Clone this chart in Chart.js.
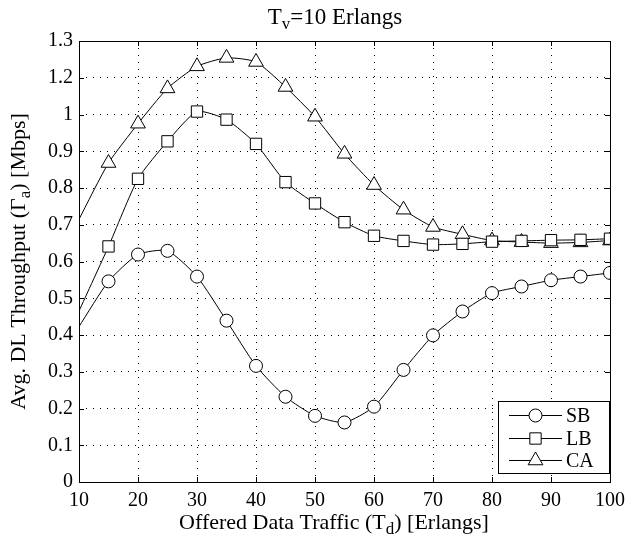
<!DOCTYPE html>
<html>
<head>
<meta charset="utf-8">
<script src="https://cdn.jsdelivr.net/npm/chart.js@4"></script>
<style>
  html, body { margin: 0; padding: 0; background: #fff; }
  #wrap { width: 632px; height: 544px; }
</style>
</head>
<body>
<div id="wrap"><canvas id="tputChart" width="632" height="544"></canvas></div>
<script>
// offered data traffic (Erlangs)
const trafficTd = [10, 15, 20, 25, 30, 35, 40, 45, 50, 55, 60, 65, 70, 75, 80, 85, 90, 95, 100];
// throughput per scheme (Mbps) - first point is the curve start, no marker there
const sbValues = [0.423, 0.546, 0.619, 0.629, 0.559, 0.439, 0.316, 0.232, 0.180, 0.162, 0.205, 0.305, 0.399, 0.464, 0.514, 0.532, 0.549, 0.559, 0.569];
const lbValues = [0.465, 0.641, 0.825, 0.927, 1.008, 0.986, 0.920, 0.816, 0.758, 0.707, 0.670, 0.656, 0.646, 0.648, 0.654, 0.656, 0.658, 0.659, 0.662];
const caValues = [0.715, 0.868, 0.975, 1.071, 1.131, 1.154, 1.143, 1.075, 0.994, 0.893, 0.808, 0.741, 0.694, 0.674, 0.657, 0.653, 0.650, 0.652, 0.657];
// tick labels as printed on the original figure
const xTickLabels = ["10", "20", "30", "40", "50", "60", "70", "80", "90", "100"];
const yTickLabels = ["0", "0.1", "0.2", "0.3", "0.4", "0.5", "0.6", "0.7", "0.8", "0.9", "1", "1.2", "1.3"];

const SERIF = "'Liberation Serif', 'DejaVu Serif', serif";

function toPoints(vals) {
  return vals.map((v, i) => ({ x: trafficTd[i], y: v }));
}
function radii(r) {
  return trafficTd.map((x, i) => (i === 0 ? 0 : r));
}

function mkSet(label, vals, style, r) {
  return {
    label: label,
    data: toPoints(vals),
    borderColor: "#000",
    borderWidth: 1,
    pointStyle: style,
    pointRadius: radii(r),
    pointHoverRadius: radii(r),
    pointBackgroundColor: "#fff",
    pointBorderColor: "#000",
    pointBorderWidth: 1,
    tension: 0.2,
    fill: false,
  };
}

// text with subscripts: parts = [[text, isSub], ...]
function drawRich(ctx, parts, size, cx, cy) {
  const subSize = Math.round(size * 0.75);
  let total = 0;
  parts.forEach((p) => {
    ctx.font = (p[1] ? subSize : size) + "px " + SERIF;
    total += ctx.measureText(p[0]).width;
  });
  let x = cx - total / 2;
  ctx.textAlign = "left";
  ctx.textBaseline = "middle";
  parts.forEach((p) => {
    ctx.font = (p[1] ? subSize : size) + "px " + SERIF;
    ctx.fillText(p[0], x, p[1] ? cy + size * 0.3 : cy);
    x += ctx.measureText(p[0]).width;
  });
}

const matlabFrame = {
  id: "matlabFrame",
  afterDraw(chart) {
    const ctx = chart.ctx;
    const a = chart.chartArea;
    const xs = chart.scales.x, ys = chart.scales.y;
    ctx.save();
    ctx.strokeStyle = "#000";
    ctx.fillStyle = "#000";
    ctx.lineWidth = 1;
    // box
    ctx.strokeRect(Math.round(a.left) + 0.5, Math.round(a.top) + 0.5, Math.round(a.right - a.left), Math.round(a.bottom - a.top));
    // inside ticks
    const tl = 5;
    ctx.beginPath();
    xs.ticks.forEach((t) => {
      const px = Math.round(xs.getPixelForValue(t.value)) + 0.5;
      ctx.moveTo(px, a.bottom); ctx.lineTo(px, a.bottom - tl);
      ctx.moveTo(px, a.top); ctx.lineTo(px, a.top + tl);
    });
    ys.ticks.forEach((t) => {
      const py = Math.round(ys.getPixelForValue(t.value)) + 0.5;
      ctx.moveTo(a.left, py); ctx.lineTo(a.left + tl, py);
      ctx.moveTo(a.right, py); ctx.lineTo(a.right - tl, py);
    });
    ctx.stroke();

    // titles
    drawRich(ctx, [["T", false], ["v", true], ["=10 Erlangs", false]], 23, 335, 18);
    drawRich(ctx, [["Offered Data Traffic (T", false], ["d", true], [") [Erlangs]", false]], 22, 334, 523);
    ctx.save();
    ctx.translate(19, (a.top + a.bottom) / 2);
    ctx.rotate(-Math.PI / 2);
    drawRich(ctx, [["Avg. DL Throughput (\u0393", false], ["a", true], [") [Mbps]", false]], 22, 0, 0);
    ctx.restore();

    // legend box inside lower right
    const bw = 111, bh = 72;
    const bx = Math.round(a.right) - 1 - bw, by = Math.round(a.bottom) - 9 - bh;
    ctx.fillStyle = "#fff";
    ctx.fillRect(bx, by, bw, bh);
    ctx.strokeStyle = "#000";
    ctx.strokeRect(bx + 0.5, by + 0.5, bw, bh);
    chart.data.datasets.forEach((ds, i) => {
      const ly = Math.round(by + 14 + i * 22.5) + 0.5;
      ctx.beginPath();
      ctx.moveTo(bx + 11, ly); ctx.lineTo(bx + 64, ly);
      ctx.stroke();
      ctx.fillStyle = "#fff";
      ctx.strokeStyle = "#000";
      ctx.lineWidth = 1;
      Chart.helpers.drawPoint(ctx, { pointStyle: ds.pointStyle, radius: ds.pointRadius[1], borderWidth: 1, rotation: 0 }, bx + 37.5, ly);
      ctx.fillStyle = "#000";
      ctx.font = "20px " + SERIF;
      ctx.textAlign = "left";
      ctx.textBaseline = "middle";
      ctx.fillText(ds.label, bx + 68, ly + 1);
    });
    ctx.restore();
  },
};

const ctx = document.getElementById("tputChart").getContext("2d");
const tputChart = new Chart(ctx, {
  type: "line",
  data: {
    datasets: [
      mkSet("SB", sbValues, "circle", 6.5),
      mkSet("LB", lbValues, "rect", 8),
      mkSet("CA", caValues, "triangle", 8.5),
    ],
  },
  options: {
    responsive: false,
    animation: false,
    events: [],
    layout: { padding: { left: 0, right: 22, top: 41, bottom: 0 } },
    scales: {
      x: {
        type: "linear",
        min: 10,
        max: 100,
        afterFit: (s) => { s.height = 62; },
        afterBuildTicks: (s) => { s.ticks = xTickLabels.map((t) => ({ value: Number(t) })); },
        border: { display: false, dash: [1, 6] },
        grid: { color: "#000", lineWidth: 1, drawTicks: false },
        ticks: {
          color: "#000",
          padding: 7,
          maxRotation: 0,
          font: { family: SERIF, size: 20 },
          callback: (v, i) => xTickLabels[i],
        },
      },
      y: {
        min: 0,
        max: 1.2,
        afterFit: (s) => { s.width = 79; },
        border: { display: false, dash: [1, 6] },
        grid: { color: "#000", lineWidth: 1, drawTicks: false },
        ticks: {
          stepSize: 0.1,
          color: "#000",
          padding: 6,
          font: { family: SERIF, size: 20 },
          callback: (v, i) => yTickLabels[i],
        },
      },
    },
    plugins: {
      legend: { display: false },
      tooltip: { enabled: false },
    },
  },
  plugins: [matlabFrame],
});
</script>
</body>
</html>
